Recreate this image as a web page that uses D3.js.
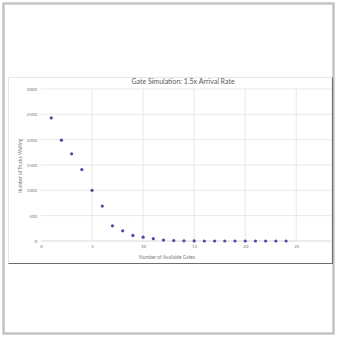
<!doctype html>
<html>
<head>
<meta charset="utf-8">
<script src="https://d3js.org/d3.v7.min.js"></script>
<style>
  body { margin: 0; background: #fff; font-family: Lato, "Open Sans", sans-serif; }
</style>
</head>
<body>
<div id="chart"></div>
<script>
// data
var gates = [1, 2, 3, 4, 5, 6, 7, 8, 9, 10, 11, 12, 13, 14, 15, 16, 17, 18, 19, 20, 21, 22, 23, 24]
var trucks = [2430, 1990, 1720, 1410, 1000, 690, 300, 200, 110, 75, 45, 18, 8, 3, 1, 0, 0, 0, 0, 0, 0, 0, 0, 0]
var xTicks = [0, 5, 10, 15, 20, 25]
var yTicks = [0, 500, 1000, 1500, 2000, 2500, 3000]

var width = 337, height = 337

var svg = d3.select("#chart").append("svg")
    .attr("width", width)
    .attr("height", height)

// outer frame
svg.append("rect")
    .attr("x", 3.5).attr("y", 3.5)
    .attr("width", 330).attr("height", 330)
    .attr("fill", "#fff")
    .attr("stroke", "#c4c4c4")
    .attr("stroke-width", 2.5)

// chart box
svg.append("rect")
    .attr("x", 8.5).attr("y", 77.5)
    .attr("width", 324).attr("height", 186)
    .attr("fill", "#fff")
    .attr("stroke", "#e6e6e6")
svg.append("path")
    .attr("d", "M332.5,77.5 V263.5 H8.5")
    .attr("fill", "none")
    .attr("stroke", "#6e6e6e")
    .attr("stroke-width", 1.2)

var x = d3.scaleLinear().domain([0, 28.4]).range([41, 331])
var y = d3.scaleLinear().domain([0, 3000]).range([241, 89])

// gridlines
svg.append("g").selectAll("line").data(yTicks).enter().append("line")
    .attr("x1", x(0)).attr("x2", x(28.4))
    .attr("y1", function(d) { return y(d) }).attr("y2", function(d) { return y(d) })
    .attr("stroke", function(d) { return d == 0 ? "#cfcfcf" : "#e2e2e2" })
    .attr("stroke-width", 0.8)
svg.append("g").selectAll("line").data(xTicks.slice(1)).enter().append("line")
    .attr("x1", function(d) { return x(d) }).attr("x2", function(d) { return x(d) })
    .attr("y1", y(0)).attr("y2", y(3000))
    .attr("stroke", "#e2e2e2")
    .attr("stroke-width", 0.8)

// axes (labels only)
svg.append("g")
    .attr("transform", "translate(" + (x(0) - 1) + ",0)")
    .call(d3.axisLeft(y).tickValues(yTicks).tickFormat(d3.format("d")).tickSize(0).tickPadding(3))
svg.append("g")
    .attr("transform", "translate(0," + (y(0) + 1) + ")")
    .call(d3.axisBottom(x).tickValues(xTicks).tickFormat(d3.format("d")).tickSize(0).tickPadding(3))
svg.selectAll(".domain").remove()
svg.selectAll(".tick text")
    .attr("fill", "#7a7a7a")
    .style("font-size", "4.5px")
    .style("font-family", "Lato, sans-serif")

// points
svg.append("g").selectAll("circle").data(gates).enter().append("circle")
    .attr("cx", function(d) { return x(d) })
    .attr("cy", function(d, i) { return y(trucks[i]) })
    .attr("r", 1.6)
    .attr("fill", "#4b4ba6")

// title and axis titles
svg.append("text")
    .attr("x", 183).attr("y", 84)
    .attr("text-anchor", "middle")
    .attr("fill", "#595959")
    .style("font-size", "7px")
    .text("Gate Simulation: 1.5x Arrival Rate")
svg.append("text")
    .attr("x", 167).attr("y", 259)
    .attr("text-anchor", "middle")
    .attr("fill", "#7a7a7a")
    .style("font-size", "4.8px")
    .text("Number of Available Gates")
svg.append("text")
    .attr("transform", "translate(22,166) rotate(-90)")
    .attr("text-anchor", "middle")
    .attr("fill", "#7a7a7a")
    .style("font-size", "4.8px")
    .text("Number of Trucks Waiting")
</script>
</body>
</html>
